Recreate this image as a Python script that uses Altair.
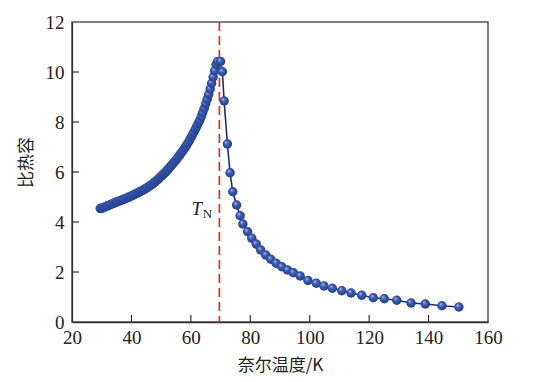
import altair as alt
import pandas as pd

# Left (below T_N) branch: temperature (K) and specific heat
T_left = [29.5, 30.0, 30.5, 31.0, 31.5, 32.0, 32.5, 33.0, 33.5, 34.0, 34.5,
          35.0, 35.5, 36.0, 36.5, 37.0, 37.5, 38.0, 38.5, 39.0, 39.5,
          40.0, 40.5, 41.0, 41.5, 42.0, 42.5, 43.0, 43.5, 44.0, 44.5,
          45.0, 45.5, 46.0, 46.5, 47.0, 47.5, 48.0, 48.5, 49.0, 49.5,
          50.0, 50.5, 51.0, 51.5, 52.0, 52.5, 53.0, 53.5, 54.0, 54.5,
          55.0, 55.5, 56.0, 56.5, 57.0, 57.5, 58.0, 58.5, 59.0, 59.5,
          60.0, 60.5, 61.0, 61.5, 62.0, 62.5, 63.0, 63.5, 64.0, 64.5,
          65.0, 65.5, 66.0, 66.5, 67.0, 67.5, 68.0, 68.5, 69.0]
C_left = [4.54, 4.55, 4.57, 4.60, 4.62, 4.65, 4.67, 4.70, 4.72, 4.75, 4.77,
          4.80, 4.82, 4.84, 4.87, 4.89, 4.91, 4.94, 4.96, 4.99, 5.01,
          5.04, 5.07, 5.10, 5.13, 5.16, 5.19, 5.22, 5.25, 5.28, 5.32,
          5.35, 5.39, 5.43, 5.47, 5.51, 5.56, 5.61, 5.66, 5.71, 5.77,
          5.83, 5.88, 5.94, 6.00, 6.06, 6.13, 6.20, 6.27, 6.34, 6.41,
          6.48, 6.56, 6.64, 6.72, 6.80, 6.88, 6.97, 7.06, 7.16, 7.26,
          7.37, 7.48, 7.59, 7.71, 7.83, 7.95, 8.07, 8.22, 8.38, 8.55,
          8.73, 8.91, 9.10, 9.32, 9.55, 9.80, 10.05, 10.30, 10.42]

# Right (above T_N) branch
T_right = [70.0, 70.6, 71.2, 72.3, 73.2, 74.1, 75.4, 76.6, 77.5, 79.1,
           80.5, 82.0, 83.5, 85.2, 86.9, 88.7, 90.6, 92.5, 94.5, 96.8,
           99.4, 102.2, 104.8, 107.6, 110.8, 113.9, 117.5, 121.4, 125.1,
           129.3, 134.1, 138.9, 144.5, 150.2]
C_right = [10.42, 10.01, 8.84, 7.12, 5.97, 5.21, 4.68, 4.25, 3.92, 3.61,
           3.35, 3.12, 2.88, 2.68, 2.51, 2.35, 2.21, 2.08, 1.97, 1.84,
           1.66, 1.55, 1.44, 1.35, 1.25, 1.16, 1.07, 0.97, 0.93,
           0.87, 0.76, 0.72, 0.65, 0.60]

TN = 69.6
x_labels = [20, 40, 60, 80, 100, 120, 140, 160]
y_labels = [0, 2, 4, 6, 8, 10, 12]
x_ticks = [40, 60, 80, 100, 120, 140]
y_ticks = [2, 4, 6, 8, 10]

df = pd.DataFrame({"T": T_left + T_right, "C": C_left + C_right})
df_tn = pd.DataFrame({"TN": [TN]})
df_xt = pd.DataFrame({"v": x_ticks})
df_yt = pd.DataFrame({"v": y_ticks})
df_lab = pd.DataFrame({"x": [62.0], "y": [4.28], "t": ["T"]})
df_sub = pd.DataFrame({"x": [64.0], "y": [4.16], "t": ["N"]})

SERIF = "Times New Roman, Liberation Serif, serif"
xs = alt.Scale(domain=[20, 160], nice=False)
ys = alt.Scale(domain=[0, 12], nice=False)
X = alt.X("T:Q", scale=xs, axis=alt.Axis(values=x_labels, title="奈尔温度/K", titleY=43,
                                         labelFont=SERIF, labelFontSize=19, labelPadding=6,
                                         labelFlush=False, labelOverlap=False))
Y = alt.Y("C:Q", scale=ys, axis=alt.Axis(values=y_labels, title="比热容",
                                         titleX=-46, titleY=140,
                                         labelFont=SERIF, labelFontSize=19, labelPadding=8,
                                         labelFlush=False, labelOverlap=False))

line = alt.Chart(df).mark_line(color="#1c2d6e", strokeWidth=1.6).encode(x=X, y=Y)

grad = alt.Gradient(
    gradient="radial",
    stops=[alt.GradientStop(offset=0, color="#b7c8f2"),
           alt.GradientStop(offset=0.35, color="#3d5fb5"),
           alt.GradientStop(offset=1, color="#1d3580")],
    x1=0.35, y1=0.3, r1=0, x2=0.5, y2=0.5, r2=0.6)
pts = alt.Chart(df).mark_circle(size=90, opacity=1, color=grad).encode(x=X, y=Y)

tn = alt.Chart(df_tn).mark_rule(color="#e3301c", strokeDash=[9, 5], strokeWidth=1.7).encode(
    x=alt.X("TN:Q", scale=xs))

xt = alt.Chart(df_xt).mark_rule(color="#333", strokeWidth=1.2).encode(
    x=alt.X("v:Q", scale=xs), y=alt.value(300), y2=alt.value(293))
yt = alt.Chart(df_yt).mark_rule(color="#333", strokeWidth=1.2).encode(
    y=alt.Y("v:Q", scale=ys), x=alt.value(0), x2=alt.value(7))

lab = alt.Chart(df_lab).mark_text(fontSize=19, fontStyle="italic",
                                  align="center", baseline="alphabetic", color="#222").encode(
    x=alt.X("x:Q", scale=xs), y=alt.Y("y:Q", scale=ys), text="t:N")
sub = alt.Chart(df_sub).mark_text(fontSize=13,
                                  align="left", baseline="alphabetic", color="#222").encode(
    x=alt.X("x:Q", scale=xs), y=alt.Y("y:Q", scale=ys), text="t:N")

chart = alt.layer(tn, line, pts, xt, yt, lab, sub).properties(
    width=416, height=300,
    autosize=alt.AutoSizeParams(type="none"),
    padding={"left": 64, "top": 14, "right": 40, "bottom": 52},
).configure(
    font=SERIF
).configure_view(
    stroke="#555", strokeWidth=1.5
).configure_text(
    font=SERIF
).configure_axis(
    grid=False, ticks=False, domainColor="#333", domainWidth=1.3,
    labelFont=SERIF, labelColor="#222", labelFlush=False,
    titleFont="Noto Sans CJK SC", titleFontSize=17, titleFontWeight="normal", titleColor="#222",
    titleAlign="center", titleBaseline="middle"
)

chart.save("out.html", embed_options={"renderer": "svg", "actions": False})
